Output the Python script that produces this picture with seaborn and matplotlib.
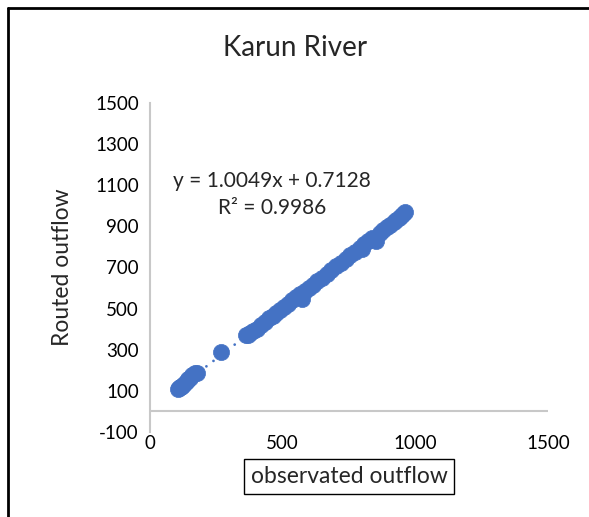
import matplotlib
matplotlib.use("Agg")
import matplotlib.pyplot as plt
from matplotlib.lines import Line2D
import seaborn as sns
import pandas as pd

# observed vs routed outflow
observed = [106, 110, 113, 117, 121, 126, 132, 138, 145, 152, 160, 168, 176,
            268, 360, 368, 378, 390, 404, 418, 432, 447, 462, 476, 490, 505,
            520, 536, 552, 566, 573, 583, 598, 614, 630, 648, 666, 684, 702,
            720, 738, 755, 772, 790, 800, 806, 822, 838, 852, 866, 880, 893,
            906, 918, 928, 938, 947, 955, 962]
routed = [107, 112, 118, 121, 126, 131, 139, 147, 158, 165, 175, 185, 188,
          291, 372, 374, 380, 389, 403, 420, 435, 452, 466, 480, 493, 508,
          524, 540, 557, 570, 548, 586, 600, 617, 636, 650, 668, 688, 706,
          722, 742, 760, 776, 795, 788, 812, 828, 842, 828, 870, 884, 898,
          905, 922, 933, 943, 952, 962, 970]
x_ticks = [0, 500, 1000, 1500]
y_ticks = [-100, 100, 300, 500, 700, 900, 1100, 1300, 1500]
equation = "y = 1.0049x + 0.7128"
r2_text = "R² = 0.9986"

df = pd.DataFrame({"observed": observed, "routed": routed})

sns.set_style("white")
plt.rcParams["font.family"] = ["Lato", "DejaVu Sans"]
plt.rcParams["axes.unicode_minus"] = False

blue = "#4472C4"
fig = plt.figure(figsize=(5.89, 5.17), dpi=100)
ax = fig.add_axes([150 / 589, 1 - 432 / 517, 398 / 589, 329 / 517])

sns.scatterplot(data=df, x="observed", y="routed", ax=ax, s=135,
                color=blue, edgecolor=blue, linewidth=0.5, zorder=3)
sns.regplot(data=df, x="observed", y="routed", ax=ax, scatter=False, ci=None,
            truncate=True,
            line_kws=dict(color=blue, lw=2, ls=(0, (0.01, 3.2)),
                          dash_capstyle="round", zorder=4))

ax.set_xlim(0, 1500)
ax.set_ylim(-100, 1500)
ax.set_xticks(x_ticks)
ax.set_yticks(y_ticks)
ax.tick_params(length=0, labelsize=13.5, colors="black")
ax.tick_params(axis="x", pad=2)
ax.tick_params(axis="y", pad=8)
for s in ["top", "right", "bottom"]:
    ax.spines[s].set_visible(False)
ax.spines["left"].set_color("#C8C8C8")
ax.spines["left"].set_linewidth(1.5)
ax.axhline(0, color="#C8C8C8", lw=1.5, zorder=1)

ax.set_ylabel("Routed outflow", fontsize=16.5, labelpad=16)
ax.set_xlabel("observated outflow", fontsize=16.5, labelpad=10,
              bbox=dict(boxstyle="square,pad=0.3", fc="white", ec="black", lw=1))

ax.text(460, 1123, equation, fontsize=15, ha="center", va="center")
ax.text(460, 987, r2_text, fontsize=15, ha="center", va="center")

fig.text(295 / 589, 1 - 48 / 517, "Karun River", fontsize=20, ha="center", va="center")

# chart frame (left and top edges visible)
fig.add_artist(Line2D([8 / 589, 8 / 589], [0, 1 - 8 / 517], color="black", lw=2,
                      transform=fig.transFigure))
fig.add_artist(Line2D([8 / 589, 1], [1 - 8 / 517, 1 - 8 / 517], color="black", lw=2,
                      transform=fig.transFigure))

fig.savefig("out.png", dpi=100)
